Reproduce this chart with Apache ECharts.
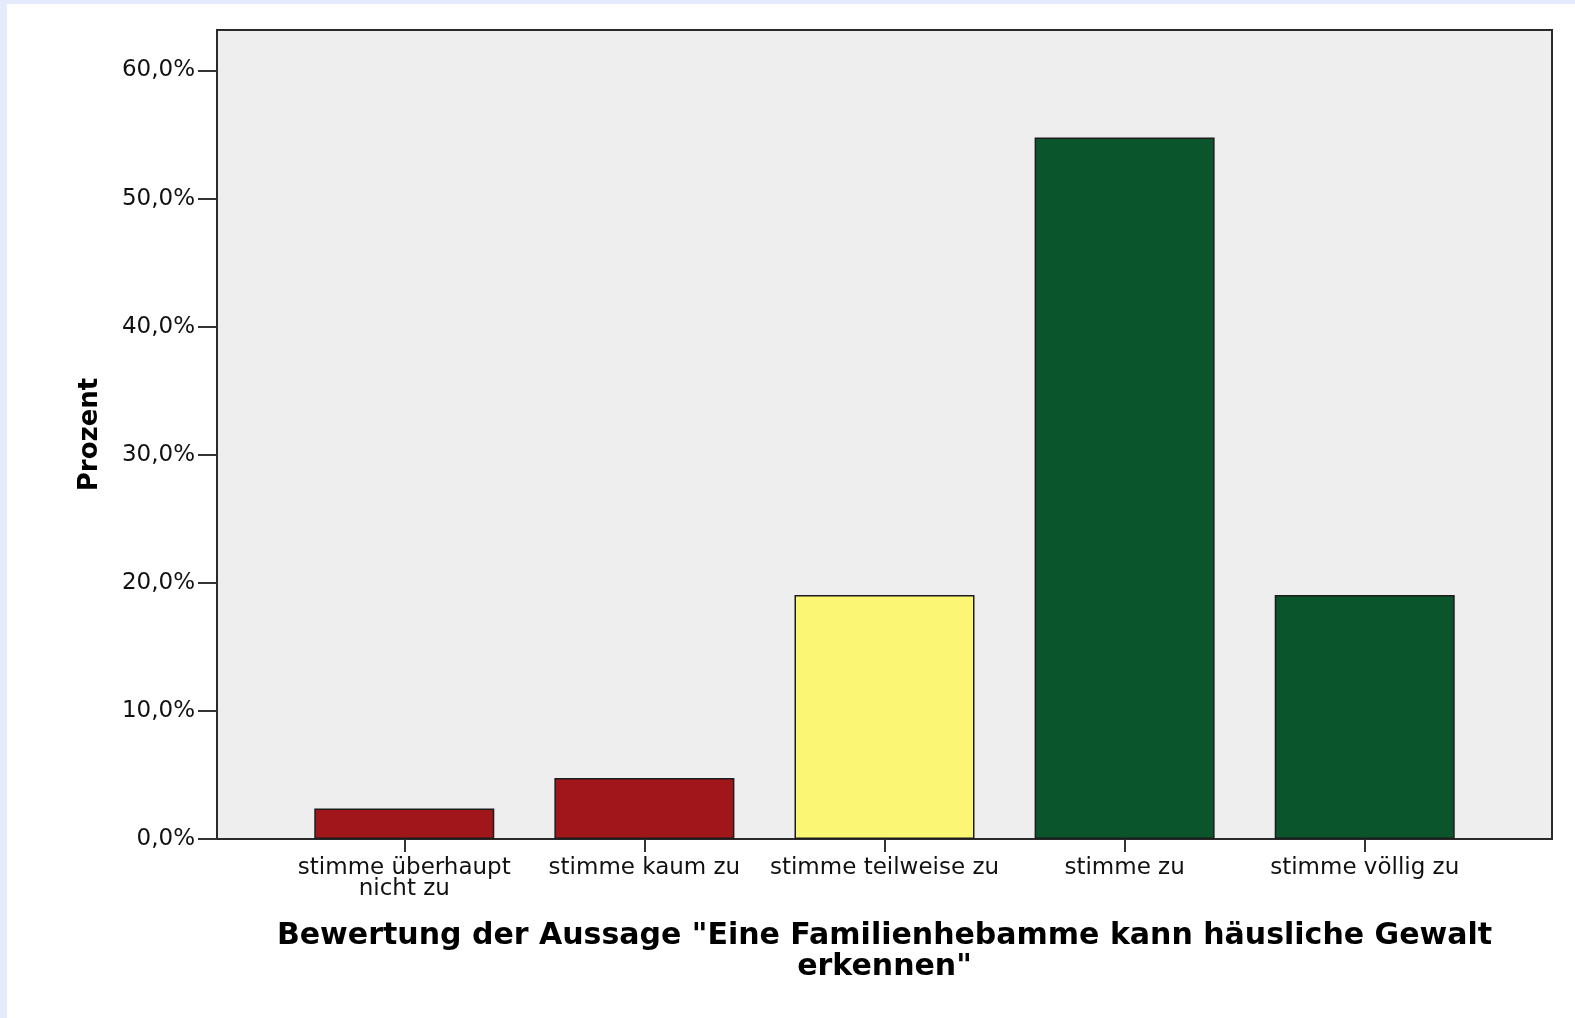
<!DOCTYPE html>
<html>
<head>
<meta charset="utf-8">
<title>Familienhebamme - häusliche Gewalt</title>
<script src="https://cdn.jsdelivr.net/npm/echarts@6/dist/echarts.min.js"></script>
<style>
  html, body { margin: 0; padding: 0; width: 100%; height: 100%; background: #e6ebfb; overflow: hidden; }
  #chart { position: absolute; left: 7px; top: 4px; width: 1568px; height: 1014px; background: #ffffff; }
</style>
</head>
<body>
<div id="chart"></div>
<script>
  /* Daten ------------------------------ */
  const categories = ['stimme überhaupt\nnicht zu', 'stimme kaum zu', 'stimme teilweise zu', 'stimme zu', 'stimme völlig zu'];
  const percentValues = [2.38, 4.76, 19.05, 54.76, 19.05];
  const barColors = ['#a1161b', '#a1161b', '#fbf775', '#0b552d', '#0b552d'];
  const yTickValues = [0, 10, 20, 30, 40, 50, 60];
  const xTitle = 'Bewertung der Aussage "Eine Familienhebamme kann häusliche Gewalt\nerkennen"';
  const yTitle = 'Prozent';

  const catIndex = categories.map((c, i) => i);
  const font = 'DejaVu Sans';

  const chart = echarts.init(document.getElementById('chart'));

  const option = {
    animation: false,
    grid: {
      left: 210,
      top: 26,
      right: 23,
      bottom: 179,
      show: true,
      backgroundColor: '#eeeeee',
      borderColor: '#2a2a2a',
      borderWidth: 2
    },
    xAxis: {
      type: 'value',
      min: -0.78,
      max: 4.78,
      splitLine: { show: false },
      axisLine: { show: true, onZero: false, lineStyle: { color: '#2a2a2a', width: 2 } },
      axisTick: { show: true, customValues: catIndex, length: 13, lineStyle: { color: '#333', width: 2 } },
      axisLabel: {
        customValues: catIndex,
        formatter: v => categories[Math.round(v)],
        color: '#111',
        fontFamily: font,
        fontSize: 23,
        lineHeight: 21,
        margin: 19
      },
      name: xTitle,
      nameLocation: 'middle',
      nameGap: 82,
      nameTextStyle: {
        color: '#000',
        fontFamily: font,
        fontWeight: 'bold',
        fontSize: 30,
        lineHeight: 31
      }
    },
    yAxis: {
      type: 'value',
      min: 0,
      max: 63.16,
      splitLine: { show: false },
      axisLine: { show: true, onZero: false, lineStyle: { color: '#2a2a2a', width: 2 } },
      axisTick: { show: true, customValues: yTickValues, length: 19, lineStyle: { color: '#333', width: 2 } },
      axisLabel: {
        customValues: yTickValues,
        formatter: v => v.toFixed(1).replace('.', ',') + '%',
        color: '#111',
        fontFamily: font,
        fontSize: 23,
        padding: [8, 0, 0, 0],
        margin: 22
      },
      name: yTitle,
      nameLocation: 'middle',
      nameGap: 114,
      nameTextStyle: {
        color: '#000',
        fontFamily: font,
        fontWeight: 'bold',
        fontSize: 26
      }
    },
    series: [
      {
        type: 'bar',
        barWidth: 180,
        data: percentValues.map((v, i) => ({
          value: [i, v],
          itemStyle: { color: barColors[i] }
        })),
        itemStyle: { borderColor: '#1c1c1c', borderWidth: 1.5 }
      }
    ]
  };

  chart.setOption(option);
</script>
</body>
</html>
